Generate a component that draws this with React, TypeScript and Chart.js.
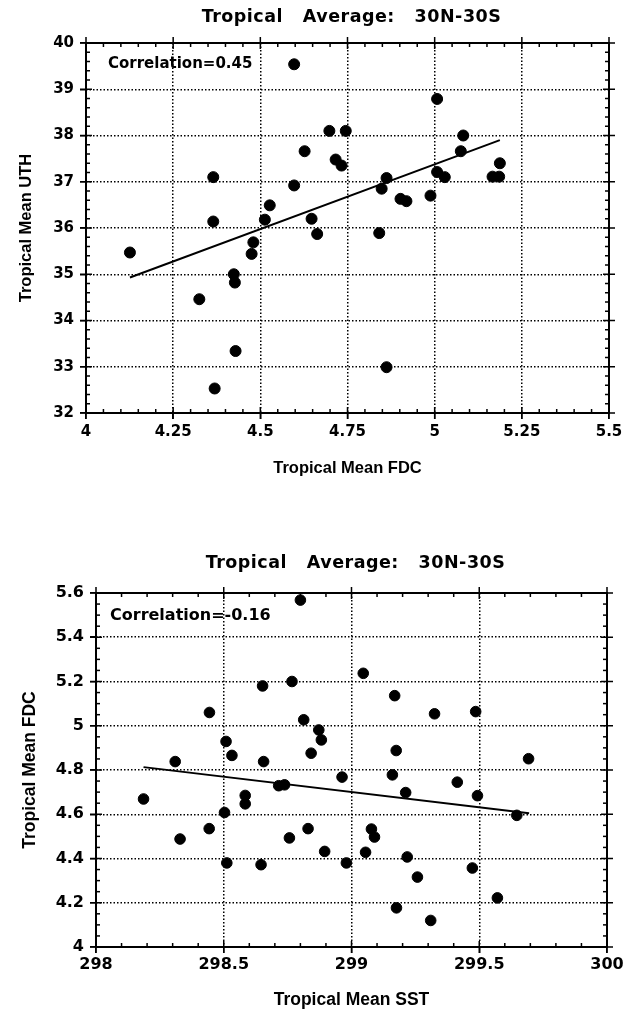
import React, { useEffect, useRef } from "react";
import { Chart, registerables } from "chart.js";
Chart.register(...registerables);

// ---------- Top panel: Tropical Mean FDC vs Tropical Mean UTH ----------
const topFDC = [4.597, 4.698, 4.745, 4.627, 4.716, 4.733, 4.365, 4.597, 4.527, 4.513, 4.365, 4.647, 5.007, 5.082, 5.075, 5.187, 5.166, 5.185, 5.007, 5.029, 4.862, 4.848, 4.902, 4.919, 4.988, 4.841, 4.862, 4.126, 4.663, 4.48, 4.475, 4.424, 4.427, 4.325, 4.429, 4.369];
const topUTH = [39.54, 38.1, 38.1, 37.66, 37.48, 37.35, 37.1, 36.92, 36.49, 36.18, 36.14, 36.2, 38.79, 38.0, 37.66, 37.4, 37.11, 37.11, 37.21, 37.1, 37.08, 36.85, 36.63, 36.58, 36.7, 35.89, 32.99, 35.47, 35.87, 35.69, 35.44, 35.0, 34.82, 34.46, 33.34, 32.53];
const topFitX = [4.126, 5.187];
const topFitY = [34.93, 37.9];
const topXTicks = [4, 4.25, 4.5, 4.75, 5, 5.25, 5.5];
const topXLabels = ["4", "4.25", "4.5", "4.75", "5", "5.25", "5.5"];
const topYTicks = [32, 33, 34, 35, 36, 37, 38, 39, 40];
const topYLabels = ["32", "33", "34", "35", "36", "37", "38", "39", "40"];

// ---------- Bottom panel: Tropical Mean SST vs Tropical Mean FDC ----------
const botSST = [298.8, 298.444, 298.652, 298.767, 298.813, 298.872, 298.882, 298.509, 298.532, 298.842, 298.31, 298.656, 298.186, 298.329, 298.443, 298.503, 298.512, 298.584, 298.584, 298.646, 298.715, 298.738, 298.757, 298.83, 298.895, 298.98, 298.963, 299.16, 299.212, 299.414, 299.493, 299.647, 299.078, 299.09, 299.055, 299.218, 299.258, 299.473, 299.571, 299.176, 299.31, 299.046, 299.169, 299.325, 299.486, 299.175, 299.693];
const botFDC = [5.568, 5.06, 5.18, 5.2, 5.027, 4.981, 4.936, 4.929, 4.866, 4.876, 4.838, 4.838, 4.669, 4.488, 4.535, 4.608, 4.38, 4.685, 4.647, 4.372, 4.729, 4.733, 4.493, 4.535, 4.432, 4.38, 4.768, 4.778, 4.698, 4.745, 4.684, 4.595, 4.533, 4.497, 4.428, 4.407, 4.316, 4.357, 4.222, 4.177, 4.12, 5.237, 5.136, 5.054, 5.064, 4.888, 4.851];
const botFitX = [298.186, 299.695];
const botFitY = [4.813, 4.605];
const botXTicks = [298, 298.5, 299, 299.5, 300];
const botXLabels = ["298", "298.5", "299", "299.5", "300"];
const botYTicks = [4, 4.2, 4.4, 4.6, 4.8, 5, 5.2, 5.4, 5.6];
const botYLabels = ["4", "4.2", "4.4", "4.6", "4.8", "5", "5.2", "5.4", "5.6"];

const TITLE = "Tropical   Average:   30N-30S";

const frameTicks = {
  id: "frameTicks",
  afterDraw(chart: any) {
    const o = chart.options.plugins.frameTicks;
    const { ctx, chartArea: a } = chart;
    const xs = chart.scales.x;
    const ys = chart.scales.y;
    ctx.save();
    ctx.setLineDash([]);
    ctx.strokeStyle = "#000";
    const seg = (x1: number, y1: number, x2: number, y2: number) => {
      ctx.beginPath();
      ctx.moveTo(x1, y1);
      ctx.lineTo(x2, y2);
      ctx.stroke();
    };
    ctx.lineWidth = 1.5;
    const isMajor = (arr: number[], v: number) => arr.some((m) => Math.abs(m - v) < 1e-6);
    const nx = Math.round((xs.max - xs.min) / o.xMinor);
    for (let i = 0; i <= nx; i++) {
      const v = xs.min + i * o.xMinor;
      const px = xs.getPixelForValue(v);
      const mj = isMajor(o.xMajor, v);
      const inL = mj ? 6 : 4;
      const outL = mj ? 6 : 0;
      seg(px, a.bottom + outL, px, a.bottom - inL);
      seg(px, a.top - outL, px, a.top + inL);
    }
    const ny = Math.round((ys.max - ys.min) / o.yMinor);
    for (let i = 0; i <= ny; i++) {
      const v = ys.min + i * o.yMinor;
      const py = ys.getPixelForValue(v);
      const mj = isMajor(o.yMajor, v);
      const inL = mj ? 6 : 4;
      const outL = mj ? 6 : 0;
      seg(a.left - outL, py, a.left + inL, py);
      seg(a.right + outL, py, a.right - inL, py);
    }
    ctx.lineWidth = 2;
    ctx.strokeRect(a.left, a.top, a.right - a.left, a.bottom - a.top);
    ctx.fillStyle = "#000";
    // correlation annotation
    ctx.font = o.corrFont;
    ctx.textAlign = "left";
    ctx.textBaseline = "middle";
    ctx.fillText(o.corrText, a.left + o.corrDx, a.top + o.corrDy);
    // chart title, centred over the plot frame
    ctx.font = o.titleFont;
    ctx.textAlign = "center";
    (ctx as any).letterSpacing = "0.5px";
    ctx.fillText(o.title, (a.left + a.right) / 2 + o.titleDx, o.titleY);
    ctx.restore();
  },
};

type P = {
  xs: number[]; ys: number[]; fx: number[]; fy: number[];
  xTicks: number[]; xLabels: string[]; yTicks: number[]; yLabels: string[];
  xTitle: string; yTitle: string; corr: string;
  height: number; areaTop: number; titleY: number; titleSize: number; titleDx: number;
  yAxisW: number; xAxisH: number; padRight: number;
  tickSize: number; xTickPad: number; yTickPad: number;
  axisTitleSize: number; xTitlePad: number; yTitlePad: number;
  corrSize: number; corrDx: number; corrDy: number;
  xMinor: number; yMinor: number; r: number;
};

function makeConfig(p: P): any {
  const pts = p.xs.map((x, i) => ({ x, y: p.ys[i] }));
  const fit = p.fx.map((x, i) => ({ x, y: p.fy[i] }));
  const tickFont = { family: "DejaVu Sans", weight: "bold", size: p.tickSize };
  const titleFont = { family: "Liberation Sans", weight: "bold", size: p.axisTitleSize };
  return {
    type: "scatter",
    data: {
      datasets: [
        { data: pts, backgroundColor: "#000", borderColor: "#000", borderWidth: 1, pointRadius: p.r, showLine: false },
        { data: fit, borderColor: "#000", borderWidth: 2, pointRadius: 0, showLine: true, fill: false },
      ],
    },
    options: {
      responsive: false,
      animation: false,
      devicePixelRatio: 1,
      layout: { padding: { left: 0, right: p.padRight, top: p.areaTop, bottom: 0 } },
      plugins: {
        legend: { display: false },
        tooltip: { enabled: false },
        title: { display: false },
        frameTicks: {
          xMinor: p.xMinor, yMinor: p.yMinor, xMajor: p.xTicks, yMajor: p.yTicks,
          corrText: p.corr, corrFont: `bold ${p.corrSize}px "DejaVu Sans"`, corrDx: p.corrDx, corrDy: p.corrDy,
          title: TITLE, titleFont: `bold ${p.titleSize}px "DejaVu Sans"`, titleY: p.titleY, titleDx: p.titleDx,
        },
      },
      scales: {
        x: {
          type: "linear",
          min: p.xTicks[0],
          max: p.xTicks[p.xTicks.length - 1],
          afterBuildTicks: (s: any) => { s.ticks = p.xTicks.map((v) => ({ value: v })); },
          afterFit: (s: any) => { s.height = p.xAxisH; },
          ticks: { color: "#000", font: tickFont, padding: p.xTickPad, autoSkip: false, maxRotation: 0, callback: (_v: any, i: number) => p.xLabels[i] },
          grid: { color: "#000", lineWidth: 1.5, tickLength: 6, tickColor: "#000", tickWidth: 1.5, tickBorderDash: [] },
          border: { display: false, dash: [1.5, 2] },
          title: { display: true, text: p.xTitle, color: "#000", font: titleFont, padding: { top: 0, bottom: p.xTitlePad } },
        },
        y: {
          type: "linear",
          min: p.yTicks[0],
          max: p.yTicks[p.yTicks.length - 1],
          afterBuildTicks: (s: any) => { s.ticks = p.yTicks.map((v) => ({ value: v })); },
          afterFit: (s: any) => { s.width = p.yAxisW; },
          ticks: { color: "#000", font: tickFont, padding: p.yTickPad, autoSkip: false, callback: (_v: any, i: number) => p.yLabels[i] },
          grid: { color: "#000", lineWidth: 1.5, tickLength: 6, tickColor: "#000", tickWidth: 1.5, tickBorderDash: [] },
          border: { display: false, dash: [1.5, 2] },
          title: { display: true, text: p.yTitle, color: "#000", font: titleFont, padding: { top: p.yTitlePad, bottom: 0 } },
        },
      },
    },
    plugins: [frameTicks],
  };
}

function Panel({ p }: { p: P }) {
  const ref = useRef<HTMLCanvasElement>(null);
  useEffect(() => {
    const chart = new Chart(ref.current as HTMLCanvasElement, makeConfig(p));
    return () => chart.destroy();
  }, []);
  return <canvas ref={ref} width={633} height={p.height} style={{ display: "block", width: 633, height: p.height }} />;
}

const topPanel: P = {
  xs: topFDC, ys: topUTH, fx: topFitX, fy: topFitY,
  xTicks: topXTicks, xLabels: topXLabels, yTicks: topYTicks, yLabels: topYLabels,
  xTitle: "Tropical Mean FDC", yTitle: "Tropical Mean UTH", corr: "Correlation=0.45",
  height: 490, areaTop: 43, titleY: 17, titleSize: 17.5, titleDx: 4,
  yAxisW: 86, xAxisH: 77, padRight: 24,
  tickSize: 15, xTickPad: 4, yTickPad: 6,
  axisTitleSize: 16.5, xTitlePad: 12, yTitlePad: 17,
  corrSize: 15, corrDx: 22, corrDy: 21,
  xMinor: 0.05, yMinor: 0.2, r: 5.5,
};

const botPanel: P = {
  xs: botSST, ys: botFDC, fx: botFitX, fy: botFitY,
  xTicks: botXTicks, xLabels: botXLabels, yTicks: botYTicks, yLabels: botYLabels,
  xTitle: "Tropical Mean SST", yTitle: "Tropical Mean FDC", corr: "Correlation=-0.16",
  height: 521, areaTop: 103, titleY: 73, titleSize: 17.5, titleDx: 4,
  yAxisW: 96, xAxisH: 64, padRight: 26,
  tickSize: 16, xTickPad: 2.5, yTickPad: 6,
  axisTitleSize: 17.5, xTitlePad: 0.5, yTitlePad: 19.5,
  corrSize: 16, corrDx: 14, corrDy: 23,
  xMinor: 0.1, yMinor: 0.05, r: 5.3,
};

export default function App() {
  return (
    <div style={{ position: "absolute", left: 0, top: 0, width: 633, height: 1011, background: "#fff" }}>
      <Panel p={topPanel} />
      <Panel p={botPanel} />
    </div>
  );
}
